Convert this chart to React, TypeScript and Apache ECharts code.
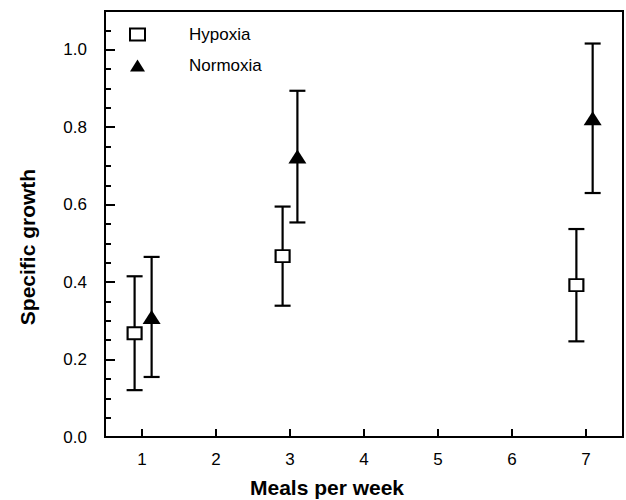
import React, { useEffect, useRef } from "react";
import * as echarts from "echarts";

const seriesNames = ["Hypoxia", "Normoxia"];
const hypoxiaX = [0.9, 2.9, 6.87];
const hypoxiaMean = [0.268, 0.467, 0.392];
const hypoxiaErr = [0.147, 0.128, 0.145];
const normoxiaX = [1.13, 3.1, 7.09];
const normoxiaMean = [0.31, 0.724, 0.823];
const normoxiaErr = [0.155, 0.17, 0.193];
const xTicks = [1, 2, 3, 4, 5, 6, 7];
const yTickLabels = ["0.0", "0.2", "0.4", "0.6", "0.8", "1.0"];

const FONT = "Liberation Sans, Arial, Helvetica, sans-serif";

function errorBarRenderer(params: any, api: any) {
  const x = api.value(0);
  const lo = api.coord([x, api.value(1)]);
  const hi = api.coord([x, api.value(2)]);
  const half = 8;
  const style = { stroke: "#000", lineWidth: 2.2 };
  return {
    type: "group",
    children: [
      { type: "line", shape: { x1: lo[0], y1: lo[1], x2: hi[0], y2: hi[1] }, style },
      { type: "line", shape: { x1: lo[0] - half, y1: lo[1], x2: lo[0] + half, y2: lo[1] }, style },
      { type: "line", shape: { x1: hi[0] - half, y1: hi[1], x2: hi[0] + half, y2: hi[1] }, style },
    ],
  };
}

export default function App() {
  const ref = useRef<HTMLDivElement>(null);
  useEffect(() => {
    if (!ref.current) return;
    const chart = echarts.init(ref.current, undefined, { renderer: "svg" });
    const hypPoints = hypoxiaX.map((x, i) => [x, hypoxiaMean[i]]);
    const norPoints = normoxiaX.map((x, i) => [x, normoxiaMean[i]]);
    const hypErr = hypoxiaX.map((x, i) => [x, hypoxiaMean[i] - hypoxiaErr[i], hypoxiaMean[i] + hypoxiaErr[i]]);
    const norErr = normoxiaX.map((x, i) => [x, normoxiaMean[i] - normoxiaErr[i], normoxiaMean[i] + normoxiaErr[i]]);
    chart.setOption({
      animation: false,
      backgroundColor: "#fff",
      textStyle: { fontFamily: FONT },
      grid: {
        left: 105,
        top: 11,
        width: 531,
        height: 426,
        show: true,
        borderColor: "#000",
        borderWidth: 2,
        backgroundColor: "transparent",
      },
      legend: {
        data: seriesNames,
        orient: "vertical",
        left: 124,
        top: 21,
        itemWidth: 15,
        itemHeight: 12,
        itemGap: 14,
        textStyle: { fontSize: 17, color: "#000", fontFamily: FONT, padding: [0, 0, 0, 39] },
      },
      xAxis: {
        type: "value",
        min: 0.5,
        max: 7.5,
        splitNumber: 7,
        axisLine: { onZero: false, lineStyle: { color: "#000", width: 2 } },
        axisTick: { inside: true, length: 8, lineStyle: { color: "#000", width: 2 } },
        splitLine: { show: false },
        axisLabel: {
          color: "#000",
          fontSize: 17,
          margin: 14,
          fontFamily: FONT,
          formatter: (v: number) => (xTicks.includes(v) ? String(v) : ""),
        },
      },
      yAxis: [
        {
          type: "value",
          min: 0,
          max: 1.1,
          interval: 0.2,
          position: "left",
          axisLine: { onZero: false, lineStyle: { color: "#000", width: 2 } },
          axisTick: { inside: true, length: 10, lineStyle: { color: "#000", width: 2 } },
          splitLine: { show: false },
          axisLabel: {
            color: "#000",
            fontSize: 17,
            margin: 18,
            fontFamily: FONT,
            formatter: (v: number) => {
              const s = v.toFixed(1);
              return yTickLabels.includes(s) && Math.abs(v * 5 - Math.round(v * 5)) < 1e-6 ? s : "";
            },
          },
        },
        {
          type: "value",
          min: 0,
          max: 1.1,
          interval: 0.05,
          position: "left",
          axisLine: { show: false },
          axisTick: { inside: true, length: 6, lineStyle: { color: "#000", width: 2 } },
          splitLine: { show: false },
          axisLabel: { show: false },
        },
      ],
      graphic: [
        {
          type: "text",
          x: 327,
          y: 487,
          style: {
            text: "Meals per week",
            font: `bold 21px ${FONT}`,
            fill: "#000",
            textAlign: "center",
            textVerticalAlign: "middle",
          },
        },
        {
          type: "text",
          x: 27,
          y: 247,
          rotation: Math.PI / 2,
          style: {
            text: "Specific growth",
            font: `bold 21px ${FONT}`,
            fill: "#000",
            textAlign: "center",
            textVerticalAlign: "middle",
          },
        },
      ],
      series: [
        {
          type: "custom",
          name: "HypoxiaErr",
          renderItem: errorBarRenderer,
          data: hypErr,
          z: 1,
          silent: true,
        },
        {
          type: "custom",
          name: "NormoxiaErr",
          renderItem: errorBarRenderer,
          data: norErr,
          z: 1,
          silent: true,
        },
        {
          type: "scatter",
          name: seriesNames[0],
          data: hypPoints,
          symbol: "rect",
          symbolSize: [14, 12],
          itemStyle: { color: "#fff", borderColor: "#000", borderWidth: 2, opacity: 1 },
          z: 5,
        },
        {
          type: "scatter",
          name: seriesNames[1],
          data: norPoints,
          symbol: "triangle",
          symbolSize: [18, 14],
          itemStyle: { color: "#000", opacity: 1 },
          z: 5,
        },
      ],
    });
    return () => chart.dispose();
  }, []);
  return (
    <div
      ref={ref}
      style={{ position: "fixed", left: 0, top: 0, width: 626, height: 500 }}
    />
  );
}
